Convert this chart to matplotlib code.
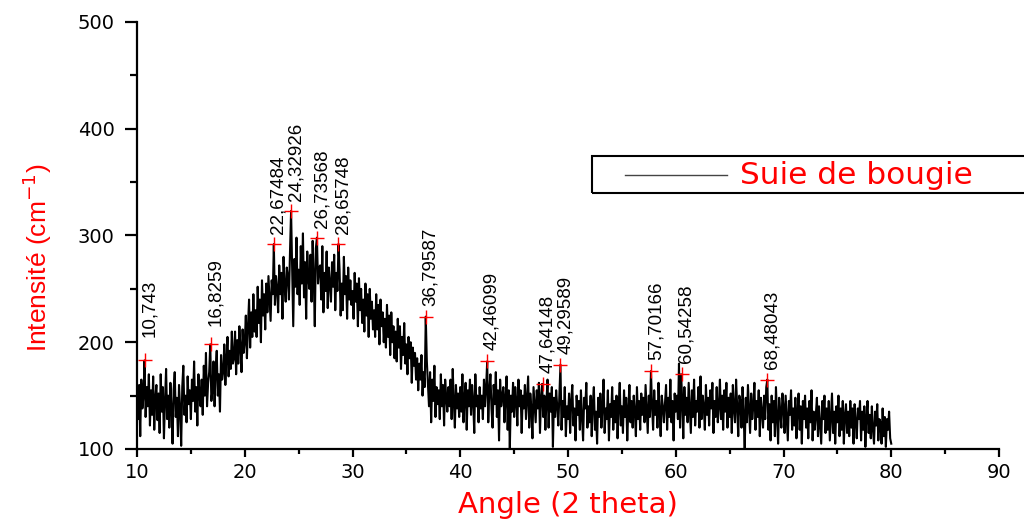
import numpy as np
import matplotlib
matplotlib.use("Agg")
import matplotlib.pyplot as plt
from matplotlib.patches import Rectangle
from matplotlib.lines import Line2D
from matplotlib import font_manager

# ---------------- data ----------------
angle_start = 10.0
angle_step = 0.1
intensity = [
    150,128,160,112,165,138,150,183,130,158,   # 10
    140,170,122,155,132,168,118,148,160,127,   # 11
    152,115,170,135,158,110,145,175,128,150,   # 12
    120,162,138,105,155,172,130,148,112,160,   # 13
    138,103,158,178,132,150,125,168,142,155,   # 14
    128,165,145,182,135,158,122,170,150,140,   # 15
    165,132,178,150,190,140,162,172,198,145,   # 16
    155,182,140,175,192,150,170,135,188,165,   # 17
    172,198,160,185,205,168,192,175,210,180,   # 18
    185,210,170,202,180,215,195,172,212,190,   # 19
    200,225,185,215,240,195,228,205,245,210,   # 20
    230,205,252,218,240,200,258,225,245,212,   # 21
    255,228,262,240,220,258,245,292,235,262,   # 22
    250,228,272,245,265,222,280,252,238,270,   # 23
    262,240,285,323,268,215,278,252,298,245,   # 24
    268,235,290,255,302,242,275,222,285,260,   # 25
    250,282,238,295,262,215,288,298,255,270,   # 26
    272,240,290,228,265,248,285,232,270,255,   # 27
    238,275,252,282,230,265,248,292,268,225,   # 28
    255,230,280,245,262,222,270,240,258,235,   # 29
    248,222,265,238,255,215,260,230,250,218,   # 30
    240,210,255,225,245,205,250,222,238,212,   # 31
    230,205,245,212,235,198,240,215,228,200,   # 32
    222,195,235,205,225,188,228,200,215,185,   # 33
    210,182,222,195,215,175,205,188,218,180,   # 34
    198,170,205,185,200,162,195,178,190,165,   # 35
    185,155,180,165,188,150,172,158,224,182,   # 36
    160,140,172,125,165,145,178,130,158,142,   # 37
    155,128,170,140,160,122,165,148,135,158,   # 38
    140,165,128,175,145,120,160,138,152,130,   # 39
    158,135,170,125,148,162,118,155,140,165,   # 40
    132,160,145,115,170,140,150,125,158,138,   # 41
    150,128,165,140,158,182,125,155,170,138,   # 42
    120,160,142,172,130,155,108,165,140,150,   # 43
    158,125,148,168,118,155,100,150,135,162,   # 44
    130,158,145,122,165,140,155,115,150,138,   # 45
    160,128,148,168,120,152,138,110,158,142,   # 46
    125,155,138,162,115,148,161,130,150,118,   # 47
    145,165,120,152,135,158,102,148,130,155,   # 48
    140,122,150,179,118,145,130,158,112,140,   # 49
    128,152,115,145,160,122,138,108,150,132,   # 50
    145,118,155,130,108,148,138,162,120,140,   # 51
    125,150,112,142,158,118,135,105,148,130,   # 52
    152,120,140,165,115,138,128,155,108,142,   # 53
    130,158,118,145,125,150,110,140,162,122,   # 54
    140,115,155,130,148,108,138,160,125,145,   # 55
    120,150,135,112,158,128,145,118,152,132,   # 56
    148,125,160,138,115,150,130,173,140,118,   # 57
    155,132,145,120,162,135,112,150,140,125,   # 58
    142,160,118,148,130,165,125,145,108,152,   # 59
    135,150,128,180,120,170,145,110,158,132,   # 60
    148,125,162,138,115,155,130,165,122,145,   # 61
    135,158,120,168,128,150,140,118,160,132,   # 62
    148,122,155,138,162,115,145,130,158,125,   # 63
    140,165,128,150,118,155,135,162,120,148,   # 64
    130,152,115,160,138,125,165,140,112,150,   # 65
    145,120,158,132,100,148,125,160,138,115,   # 66
    152,128,140,162,118,145,130,155,112,148,   # 67
    135,120,150,128,158,165,118,142,108,150,   # 68
    125,145,112,158,130,105,148,135,120,152,   # 69
    140,115,150,128,108,145,132,155,118,138,   # 70
    122,148,110,135,152,118,140,105,145,128,   # 71
    150,120,138,110,145,125,155,108,135,118,   # 72
    132,148,112,140,122,105,145,128,150,115,   # 73
    138,118,145,108,130,152,115,135,105,140,   # 74
    125,150,112,138,118,145,105,132,142,115,   # 75
    135,112,145,120,138,105,142,125,110,138,   # 76
    128,145,108,135,118,140,102,130,145,115,   # 77
    132,110,140,118,105,135,122,142,108,128,   # 78
    125,105,138,112,130,102,128,118,135,110,   # 79
    105,                                       # 80
]
angle = angle_start + angle_step * np.arange(len(intensity))

peak_angles = [10.743, 16.8259, 22.67484, 24.32926, 26.73568, 28.65748,
               36.79587, 42.46099, 47.64148, 49.29589, 57.70166, 60.54258,
               68.48043]
peak_heights = [183, 198, 292, 323, 298, 292, 224, 182, 161, 179, 173, 170, 165]
peak_labels = ["10,743", "16,8259", "22,67484", "24,32926", "26,73568",
               "28,65748", "36,79587", "42,46099", "47,64148", "49,29589",
               "57,70166", "60,54258", "68,48043"]

series_name = "Suie de bougie"
xlabel = "Angle (2 theta)"
ylabel = "Intensité (cm$^{-1}$)"
xticks = [10, 20, 30, 40, 50, 60, 70, 80, 90]
yticks = [100, 200, 300, 400, 500]

# ---------------- figure ----------------
W, H = 1024, 520
fig = plt.figure(figsize=(W / 100, H / 100), dpi=100)
ax = fig.add_axes([137 / W, 1 - 449 / H, (999 - 137) / W, (449 - 22) / H])

ax.plot(angle, intensity, color="black", lw=1.5, zorder=2)
ax.plot(peak_angles, peak_heights, ls="none", marker="+", color="red",
        ms=10, mew=1.0, zorder=3)

available = {f.name for f in font_manager.fontManager.ttflist}
if "Liberation Sans Narrow" in available:
    label_family, label_size = "Liberation Sans Narrow", 16
else:
    label_family, label_size = "Liberation Sans", 13.5

# vertical gap (pt) between marker and label
label_gap = [17, 13, 7, 7, 7, 7, 8, 8, 8, 8, 8, 8, 8]
for xa, ya, lab, g in zip(peak_angles, peak_heights, peak_labels, label_gap):
    ax.annotate(lab, (xa, ya), xytext=(3.5, g), textcoords="offset points",
                rotation=90, ha="center", va="bottom", fontsize=label_size,
                family=label_family, color="black", zorder=4)

ax.set_xlim(10, 90)
ax.set_ylim(100, 500)
ax.set_xticks(xticks)
ax.set_yticks(yticks)
ax.set_xticks(np.arange(15, 90, 10), minor=True)
ax.set_yticks(np.arange(150, 500, 100), minor=True)

for s in ("top", "right"):
    ax.spines[s].set_visible(False)
for s in ("left", "bottom"):
    ax.spines[s].set_linewidth(1.6)

ax.tick_params(axis="y", which="major", direction="out", length=9, width=1.6,
               pad=7, labelsize=14)
ax.tick_params(axis="y", which="minor", direction="out", length=5, width=1.6)
ax.tick_params(axis="x", which="major", direction="out", length=6, width=1.6,
               pad=4, labelsize=14)
ax.tick_params(axis="x", which="minor", direction="out", length=3.5, width=1.6)
for lab in ax.get_xticklabels() + ax.get_yticklabels():
    lab.set_family("DejaVu Sans")

# axis titles (red)
fig.text(37 / W, 1 - 258 / H, ylabel, rotation=90, ha="center", va="center",
         color="red", fontsize=19, family="Liberation Sans")
fig.text(568 / W, 1 - 519 / H, xlabel, ha="center", va="bottom",
         color="red", fontsize=21, family="DejaVu Sans")

# legend box (extends past right edge as in reference)
fig.patches.append(Rectangle((592 / W, 1 - 193 / H), 450 / W, 37 / H,
                             transform=fig.transFigure, fill=False,
                             edgecolor="black", lw=1.5))
fig.lines.append(Line2D([625 / W, 727 / W], [1 - 175 / H, 1 - 175 / H],
                        transform=fig.transFigure, color="#444444", lw=1.0))
fig.text(740 / W, 1 - 176 / H, series_name, ha="left", va="center",
         color="red", fontsize=22.5, family="DejaVu Sans")

fig.savefig("out.png", dpi=100)
